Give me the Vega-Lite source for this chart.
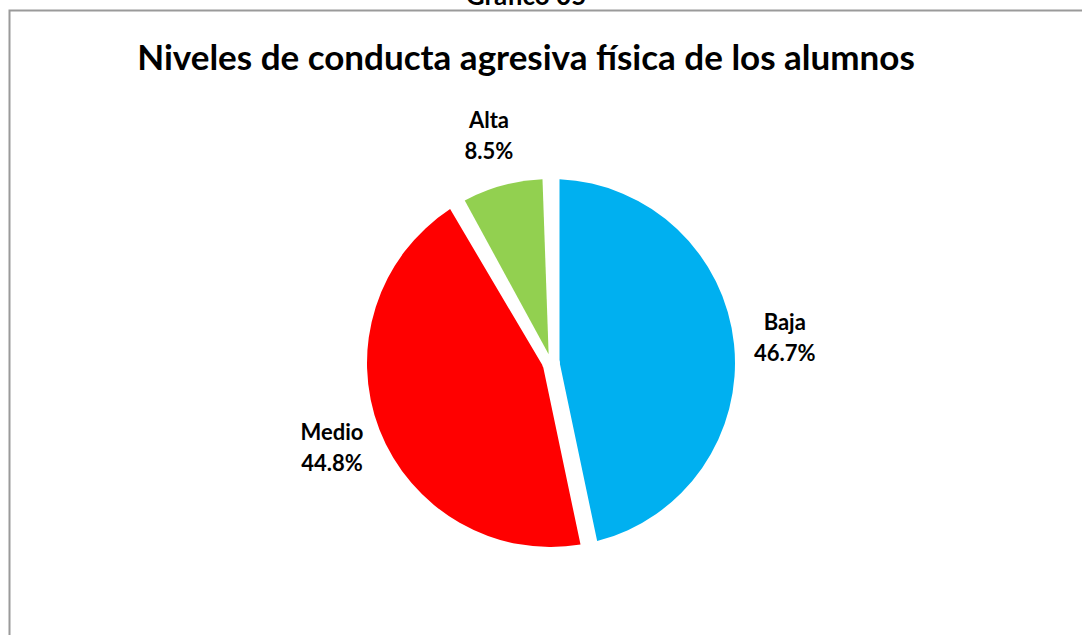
{
  "$schema": "https://vega.github.io/schema/vega-lite/v6.json",
  "width": 1083,
  "height": 705,
  "padding": {"left": 9.5, "top": -16.5, "right": -10.5, "bottom": -80.5},
  "background": "white",
  "view": {"stroke": "#9a9a9a", "strokeWidth": 2, "fill": "white"},
  "title": {
    "text": "Gráfico 05",
    "subtitle": "Niveles de conducta agresiva física de los alumnos",
    "anchor": "middle",
    "frame": "group",
    "offset": -66,
    "dx": -25,
    "font": "Lato",
    "fontSize": 26,
    "fontWeight": "bold",
    "color": "black",
    "subtitleFont": "Lato",
    "subtitleFontSize": 35,
    "subtitleFontWeight": "bold",
    "subtitleColor": "black",
    "subtitlePadding": 31.5
  },
  "data": {
    "values": [
      {"nivel": "Baja", "share": 0.467},
      {"nivel": "Medio", "share": 0.448},
      {"nivel": "Alta", "share": 0.085}
    ]
  },
  "encoding": {
    "theta": {"field": "share", "type": "quantitative", "stack": true},
    "order": {"field": "share", "sort": "descending"}
  },
  "layer": [
    {
      "mark": {"type": "arc", "radius": 184, "innerRadius": 9, "padAngle": 0.0924},
      "encoding": {
        "color": {
          "field": "nivel",
          "type": "nominal",
          "scale": {"domain": ["Baja", "Medio", "Alta"], "range": ["#00B0F0", "#FF0000", "#92D050"]},
          "legend": null
        }
      }
    },
    {
      "mark": {"type": "text", "radius": 235, "dy": -15.5, "font": "Lato", "fontSize": 22, "fontWeight": "bold", "color": "black"},
      "encoding": {"text": {"field": "nivel", "type": "nominal"}}
    },
    {
      "mark": {"type": "text", "radius": 235, "dy": 15.5, "font": "Lato", "fontSize": 22, "fontWeight": "bold", "color": "black"},
      "encoding": {"text": {"field": "share", "type": "quantitative", "format": ".1%"}}
    }
  ]
}
